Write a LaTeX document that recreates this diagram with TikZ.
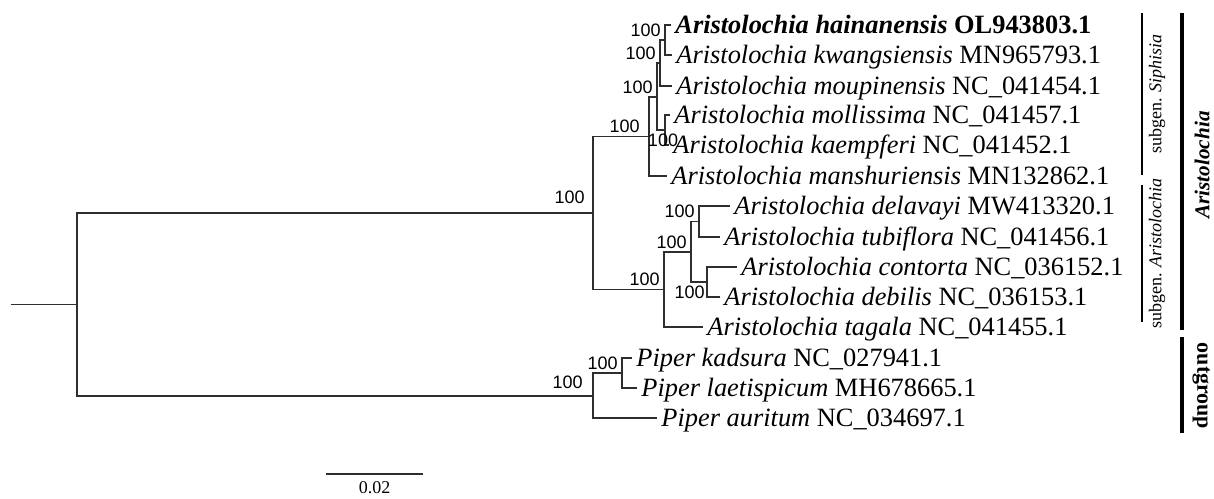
\documentclass[tikz,border=0pt]{standalone}
\usepackage{fontspec}
\setmainfont{Liberation Serif}
\newfontfamily\bsfont{Liberation Sans}
\usepackage{xcolor}
\usepackage{tikz}
\usetikzlibrary{calc}
\definecolor{treec}{HTML}{2E2E2E}
\tikzset{
  br/.style={line width=0.8pt,treec},
  tip/.style={anchor=base west,inner sep=0pt,xshift=2pt,yshift=-4.2pt,font=\fontsize{13.2}{15}\selectfont},
  bs/.style={anchor=south east,inner sep=0pt,xshift=-2pt,yshift=1.5pt,font=\bsfont\fontsize{9}{10}\selectfont},
  thinbar/.style={line width=1pt,black},
  thickbar/.style={line width=2pt,black},
  grp/.style={inner sep=0pt,font=\fontsize{9}{10}\selectfont}
}

\begin{document}
\begin{tikzpicture}[x=0.5pt,y=-0.5pt]
\useasboundingbox (0,0) rectangle (1214,498);
% internal nodes
\coordinate (rootL) at (11,304.5);
\coordinate (nRoot) at (77,304.5);
\coordinate (nAr) at (593,213);
\coordinate (nSiph) at (649,136.5);
\coordinate (nS1) at (657,97);
\coordinate (nS3) at (660,63);
\coordinate (nHK) at (665,40);
\coordinate (nMK) at (665,130);
\coordinate (nSA) at (664,289.5);
\coordinate (nDC) at (691,252);
\coordinate (nDT) at (699,221.5);
\coordinate (nCD) at (707,282);
\coordinate (nPip) at (593,396);
\coordinate (nPKL) at (622,373);
% tips
\coordinate (tHain) at (671,25);
\coordinate (tKwan) at (672,55);
\coordinate (tMoup) at (672,86);
\coordinate (tMoll) at (670,115);
\coordinate (tKaem) at (669,145);
\coordinate (tMans) at (667,176);
\coordinate (tDela) at (730,206);
\coordinate (tTubi) at (720,237);
\coordinate (tCont) at (737,267);
\coordinate (tDebi) at (720,297);
\coordinate (tTaga) at (703,327);
\coordinate (tKads) at (632,358);
\coordinate (tLaet) at (637,388);
\coordinate (tAuri) at (657,418);

% branches
\draw[br] (rootL) -- (nRoot);
\draw[br] (nRoot) |- (nAr);
\draw[br] (nRoot) |- (nPip);
\draw[br] (nAr) |- (nSiph);
\draw[br] (nAr) |- (nSA);
\draw[br] (nSiph) |- (nS1);
\draw[br] (nSiph) |- (tMans);
\draw[br] (nS1) |- (nS3);
\draw[br] (nS1) |- (nMK);
\draw[br] (nS3) |- (nHK);
\draw[br] (nS3) |- (tMoup);
\draw[br] (nHK) |- (tHain);
\draw[br] (nHK) |- (tKwan);
\draw[br] (nMK) |- (tMoll);
\draw[br] (nMK) |- (tKaem);
\draw[br] (nSA) |- (nDC);
\draw[br] (nSA) |- (tTaga);
\draw[br] (nDC) |- (nDT);
\draw[br] (nDC) |- (nCD);
\draw[br] (nDT) |- (tDela);
\draw[br] (nDT) |- (tTubi);
\draw[br] (nCD) |- (tCont);
\draw[br] (nCD) |- (tDebi);
\draw[br] (nPip) |- (nPKL);
\draw[br] (nPip) |- (tAuri);
\draw[br] (nPKL) |- (tKads);
\draw[br] (nPKL) |- (tLaet);

% taxa
\node[tip] (lHain) at (tHain) {\textbf{\textit{Aristolochia hainanensis} OL943803.1}};
\node[tip] (lKwan) at (tKwan) {\textit{Aristolochia kwangsiensis} MN965793.1};
\node[tip] (lMoup) at (tMoup) {\textit{Aristolochia moupinensis} NC\_041454.1};
\node[tip] (lMoll) at (tMoll) {\textit{Aristolochia mollissima} NC\_041457.1};
\node[tip] (lKaem) at (tKaem) {\textit{Aristolochia kaempferi} NC\_041452.1};
\node[tip] (lMans) at (tMans) {\textit{Aristolochia manshuriensis} MN132862.1};
\node[tip] (lDela) at (tDela) {\textit{Aristolochia delavayi} MW413320.1};
\node[tip] (lTubi) at (tTubi) {\textit{Aristolochia tubiflora} NC\_041456.1};
\node[tip] (lCont) at (tCont) {\textit{Aristolochia contorta} NC\_036152.1};
\node[tip] (lDebi) at (tDebi) {\textit{Aristolochia debilis} NC\_036153.1};
\node[tip] (lTaga) at (tTaga) {\textit{Aristolochia tagala} NC\_041455.1};
\node[tip] (lKads) at (tKads) {\textit{Piper kadsura} NC\_027941.1};
\node[tip] (lLaet) at (tLaet) {\textit{Piper laetispicum} MH678665.1};
\node[tip] (lAuri) at (tAuri) {\textit{Piper auritum} NC\_034697.1};

% support values
\node[bs,xshift=-2pt,yshift=3pt] (bAr) at (nAr) {100};
\node[bs,xshift=-2.5pt] (bSiph) at (nSiph) {100};
\node[bs] (bS1) at (nS1) {100};
\node[bs] (bS3) at (nS3) {100};
\node[bs] (bHK) at (nHK) {100};
\node[bs,anchor=north,xshift=1pt,yshift=-3.5pt] (bMK) at (nMK) {100};
\node[bs] (bSA) at (nSA) {100};
\node[bs] (bDC) at (nDC) {100};
\node[bs] (bDT) at (nDT) {100};
\node[bs,anchor=north east,xshift=1pt,yshift=-3.5pt] (bCD) at (nCD) {100};
\node[bs,xshift=-3pt,yshift=2pt] (bPip) at (nPip) {100};
\node[bs] (bPKL) at (nPKL) {100};

% clade bars
\coordinate (siphT) at (1142,13);
\coordinate (siphB) at (1142,175);
\coordinate (saT) at (1142,185);
\coordinate (saB) at (1142,322);
\coordinate (arT) at (1182,13);
\coordinate (arB) at (1182,330);
\coordinate (outT) at (1182,337);
\coordinate (outB) at (1182,433);
\draw[thinbar] (siphT) -- (siphB);
\draw[thinbar] (saT) -- (saB);
\draw[thickbar] (arT) -- (arB);
\draw[thickbar] (outT) -- (outB);
\node[grp,rotate=90] (gSiph) at (1157,94) {subgen. \textit{Siphisia}};
\node[grp,rotate=90] (gSA) at (1157,253.5) {subgen. \textit{Aristolochia}};
\node[grp,rotate=90,font=\fontsize{10.6}{12}\selectfont\bfseries\itshape] (gAr) at (1202,165) {Aristolochia};
\node[grp,rotate=-90,font=\fontsize{11}{12}\selectfont\bfseries] (gOut) at (1201,386) {outgroup};

% scale bar
\coordinate (sbL) at (326,474);
\coordinate (sbR) at (423,474);
\draw[line width=1.2pt,treec] (sbL) -- (sbR);
\node[inner sep=0pt,font=\fontsize{9}{10}\selectfont] (sbT) at (374.5,488) {0.02};
\end{tikzpicture}
\end{document}
